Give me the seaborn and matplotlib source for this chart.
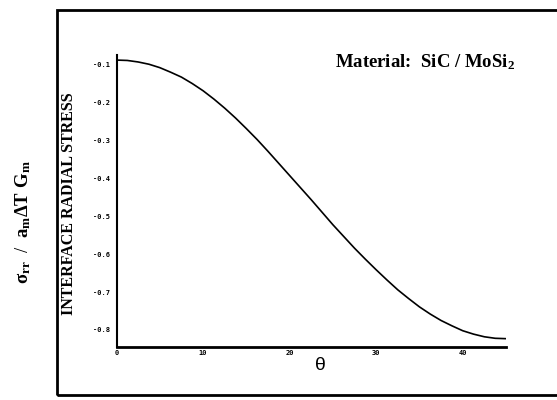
import matplotlib
matplotlib.use("Agg")
import matplotlib.pyplot as plt
import pandas as pd
import seaborn as sns
from matplotlib.patches import Rectangle

# ---- data ----
theta = [0, 1.25, 2.5, 3.75, 5, 6.25, 7.5, 8.75, 10, 11.25, 12.5, 13.75, 15, 16.25,
         17.5, 18.75, 20, 21.25, 22.5, 23.75, 25, 26.25, 27.5, 28.75, 30, 31.25,
         32.5, 33.75, 35, 36.25, 37.5, 38.75, 40, 41.25, 42.5, 43.75, 45]
stress = [-0.087, -0.088, -0.092, -0.098, -0.107, -0.119, -0.132, -0.149, -0.168, -0.190,
          -0.214, -0.240, -0.268, -0.297, -0.328, -0.360, -0.392, -0.424, -0.456, -0.489,
          -0.522, -0.553, -0.584, -0.613, -0.641, -0.668, -0.694, -0.717, -0.739, -0.758,
          -0.775, -0.789, -0.802, -0.811, -0.818, -0.822, -0.823]
y_ticks = [-0.1, -0.2, -0.3, -0.4, -0.5, -0.6, -0.7, -0.8]
y_tick_labels = ["-0.1", "-0.2", "-0.3", "-0.4", "-0.5", "-0.6", "-0.7", "-0.8"]
x_ticks = [0, 10, 20, 30, 40]
x_tick_labels = ["0", "10", "20", "30", "40"]

df = pd.DataFrame({"theta": theta, "stress": stress})

sns.set_theme(style="white")
plt.rcParams["font.family"] = ["Liberation Serif", "DejaVu Sans"]
plt.rcParams["mathtext.fontset"] = "custom"
plt.rcParams["mathtext.rm"] = "Liberation Serif:bold"
plt.rcParams["mathtext.it"] = "Liberation Serif:bold"
plt.rcParams["mathtext.bf"] = "Liberation Serif:bold"

W, H = 557, 400
fig = plt.figure(figsize=(W / 100, H / 100), dpi=100)
fig.patch.set_facecolor("white")

left_px, right_px, top_px, bot_px = 116.5, 506, 55, 347
ax = fig.add_axes([left_px / W, 1 - bot_px / H, (right_px - left_px) / W, (bot_px - top_px) / H])
sns.lineplot(data=df, x="theta", y="stress", color="black", lw=1.2, ax=ax)
ax.set_xlim(0, 45)
ax.set_ylim(-0.845, -0.0736)
ax.set_facecolor("white")
for s in ["top", "right"]:
    ax.spines[s].set_visible(False)
ax.spines["left"].set_linewidth(1.5)
ax.spines["bottom"].set_linewidth(2.0)
ax.spines["left"].set_color("black")
ax.spines["bottom"].set_color("black")

ax.set_yticks(y_ticks)
ax.set_yticklabels(y_tick_labels, family="DejaVu Sans Mono", fontweight="bold", fontsize=5)
ax.set_xticks(x_ticks)
ax.set_xticklabels(x_tick_labels, family="DejaVu Sans Mono", fontweight="bold", fontsize=5)
ax.tick_params(axis="y", direction="inout", length=3, width=0.8, pad=3, colors="black")
ax.tick_params(axis="x", direction="inout", length=2, width=0.8, pad=1, colors="black")
ax.set_xlabel("")
ax.set_ylabel("")

def fx(px):
    return px / W

def fy(py):
    return 1 - py / H

# inner y label
fig.text(fx(69), fy(204), "INTERFACE RADIAL STRESS", rotation=90, ha="center", va="center",
         fontsize=11.5, fontweight="bold", family="Liberation Serif", color="black")
# outer y label
fig.text(fx(23), fy(222), r"$\sigma_{rr}$  /  $a_m\Delta T\ G_m$", rotation=90,
         ha="center", va="center", fontsize=13.5, color="black")
# x label
fig.text(fx(320), fy(366), "θ", ha="center", va="center", fontsize=14,
         family="Liberation Sans", color="black")
# material annotation
fig.text(fx(335), fy(62), r"Material:  SiC / MoSi$_2$", ha="left", va="center",
         fontsize=13.5, fontweight="bold", family="Liberation Serif", color="black")

# outer frame
fig.patches.append(Rectangle((fx(57), fy(395)), 1.0, (395 - 10) / H, transform=fig.transFigure,
                             fill=False, lw=2.0, ec="black"))

fig.savefig("out.png", dpi=100, facecolor="white")
